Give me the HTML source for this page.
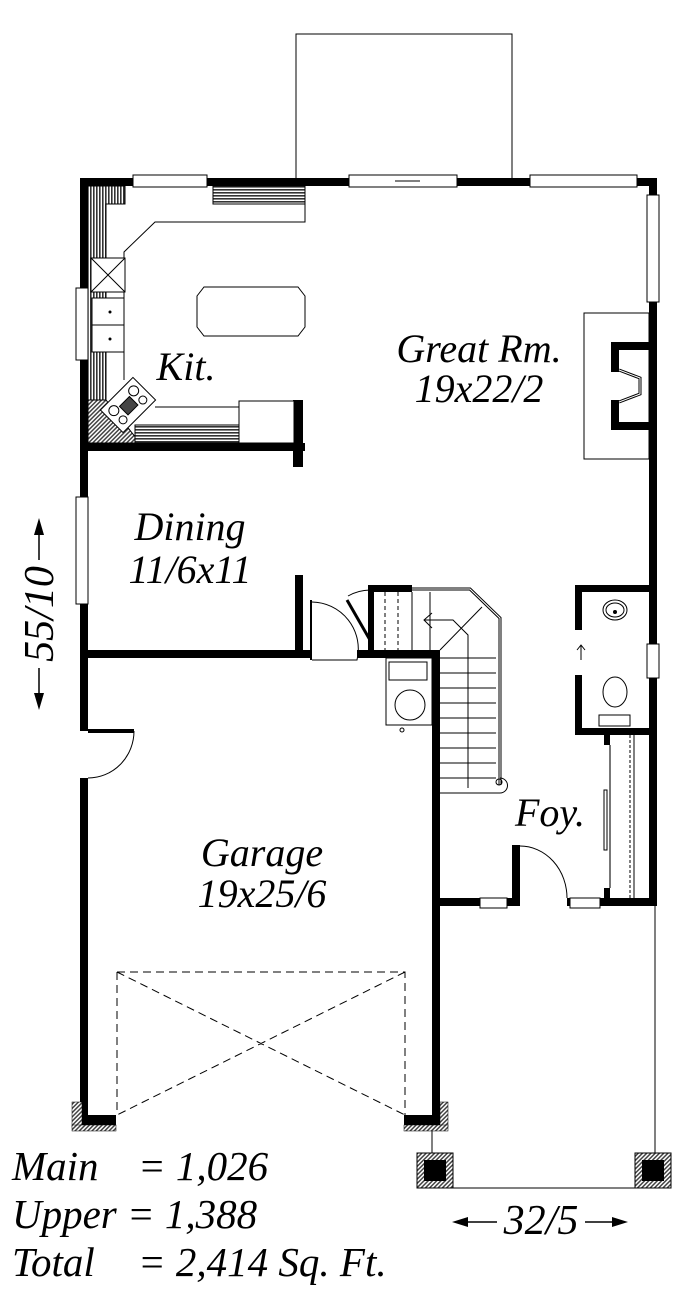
<!DOCTYPE html>
<html><head><meta charset="utf-8"><style>
html,body{margin:0;padding:0;background:#fff}
svg{display:block}
text{font-family:"Liberation Serif",serif;font-style:italic;fill:#000}
</style></head><body>
<svg width="690" height="1306" viewBox="0 0 690 1306" xmlns="http://www.w3.org/2000/svg">
<defs>
<pattern id="hatch" width="3" height="3" patternUnits="userSpaceOnUse"><rect width="3" height="3" fill="#fff"/><rect width="3" height="1.6" fill="#333"/></pattern>
<pattern id="vh" width="3" height="3" patternUnits="userSpaceOnUse"><rect width="3" height="3" fill="#fff"/><rect width="1.6" height="3" fill="#333"/></pattern>
<pattern id="dh" width="3" height="3" patternUnits="userSpaceOnUse" patternTransform="rotate(45)"><rect width="3" height="3" fill="#fff"/><rect width="1.5" height="3" fill="#444"/></pattern>
</defs>
<rect x="296" y="34" width="216" height="145" fill="none" stroke="#000" stroke-width="1"/>
<g fill="#000">
<rect x="80" y="178" width="577" height="8"/>
<rect x="80" y="178" width="8" height="553"/>
<rect x="80" y="778" width="8" height="347"/>
<rect x="649" y="178" width="8" height="728"/>
<rect x="88" y="443" width="217" height="8"/>
<rect x="293" y="400" width="10" height="67"/>
<rect x="88" y="650" width="222" height="8"/>
<rect x="295" y="575" width="8" height="80"/>
<rect x="357" y="650" width="83" height="8"/>
<rect x="432" y="650" width="8" height="475"/>
<rect x="80" y="1115" width="36" height="10"/>
<rect x="404" y="1115" width="36" height="10"/>
<rect x="368" y="585" width="44" height="7"/>
<rect x="368" y="585" width="6" height="70"/>
<rect x="440" y="898" width="77" height="8"/>
<rect x="512" y="845" width="8" height="61"/>
<rect x="567" y="898" width="90" height="8"/>
<rect x="575" y="585" width="82" height="7"/>
<rect x="575" y="585" width="7" height="45"/>
<rect x="575" y="675" width="7" height="60"/>
<rect x="575" y="728" width="82" height="7"/>
<rect x="604" y="735" width="6" height="10"/>
<rect x="604" y="888" width="6" height="12"/>
<rect x="611" y="342" width="38" height="8"/>
<rect x="611" y="422" width="38" height="8"/>
<rect x="611" y="342" width="8" height="30"/>
<rect x="611" y="400" width="8" height="30"/>
</g>
<g fill="#fff" stroke="#000" stroke-width="1">
<rect x="133" y="175" width="74" height="12"/>
<rect x="349" y="175" width="108" height="12"/>
<rect x="530" y="175" width="107" height="12"/>
<rect x="647" y="195" width="12" height="107"/>
<rect x="647" y="644" width="12" height="34"/>
<rect x="76" y="288" width="12" height="72"/>
<rect x="76" y="497" width="12" height="107"/>
<rect x="480" y="898" width="27" height="10"/>
<rect x="570" y="898" width="30" height="10"/>
</g>
<line x1="395" y1="181" x2="420" y2="181" stroke="#000"/>
<g stroke="#000" stroke-width="1">
<path d="M88 186 H125 V204 H106 V400 H88Z" fill="url(#vh)"/>
<rect x="213" y="186" width="92" height="18" fill="url(#hatch)"/>
<path d="M88 400 L106 400 L140 443 L88 443Z" fill="url(#dh)"/>
<rect x="135" y="425" width="105" height="18" fill="url(#hatch)"/>
<path d="M305 204 V222 H155 L124 252 V380" fill="none"/>
<path d="M155 407 H240" fill="none"/>
<rect x="91" y="258" width="34" height="34" fill="#fff"/>
<path d="M91 258 L125 292 M125 258 L91 292" fill="none"/>
<rect x="92" y="298" width="32" height="27" fill="#fff"/>
<rect x="92" y="325" width="32" height="27" fill="#fff"/>
<path d="M197 296 L204 287 H298 L305 296 V327 L298 336 H204 L197 327Z" fill="#fff"/>
<rect x="239" y="401" width="55" height="42" fill="#fff"/>
<g transform="translate(128 405) rotate(-45)"><rect x="-23" y="-16" width="46" height="32" fill="#fff"/>
<circle cx="-14" cy="-6" r="5" fill="#fff"/><circle cx="14" cy="-6" r="5" fill="#fff"/><circle cx="-14" cy="7" r="4" fill="#fff"/><circle cx="14" cy="7" r="4" fill="#fff"/><rect x="-7" y="-5" width="14" height="12" fill="#444"/></g>
</g>
<circle cx="110" cy="312" r="1.5"/><circle cx="110" cy="339" r="1.5"/>
<rect x="584" y="313" width="65" height="146" fill="none" stroke="#000"/>
<path d="M619 370 L640 378 V394 L619 402" fill="none" stroke="#000" stroke-width="3"/>
<path d="M619 370 L640 378 V394 L619 402" fill="none" stroke="#fff" stroke-width="1"/>
<rect x="310" y="600" width="2" height="60" fill="#000"/>
<path d="M312 602 A47 47 0 0 1 357 660 H312" fill="none" stroke="#000"/>
<path d="M347 600 L370 640" stroke="#000" stroke-width="3"/>
<path d="M348 596 A46 46 0 0 1 370 590" fill="none" stroke="#000"/>
<rect x="88" y="729" width="46" height="4" fill="#000"/>
<path d="M134 731 A46 47 0 0 1 88 778" fill="none" stroke="#000"/>
<g stroke="#000" stroke-width="1" fill="none">
<path d="M385 592 V650 M398 592 V650" stroke-dasharray="4 3"/>
<path d="M412 592 V650 M430 592 V650"/>
<path d="M412 589 H470 L500 618 V785" stroke-width="3"/>
<path d="M412 589 H470 L500 618 V785" stroke="#fff" stroke-width="1"/>
<path d="M440 650 L482 607"/>
<path d="M440 658 H496 M440 673 H496 M440 688 H496 M440 703 H496 M440 718 H496 M440 733 H496 M440 748 H496 M440 763 H496 M440 778 H496 M440 793 H500"/>
<path d="M468 788 V635 L453 620 H424 M432 613 L424 620 L432 628"/>
<circle cx="499" cy="782" r="3"/>
<path d="M500 778 A7 7 0 0 1 500 793"/>
<rect x="386" y="658" width="46" height="67"/>
<rect x="389" y="662" width="38" height="18"/>
<circle cx="410" cy="705" r="15"/>
<circle cx="402" cy="730" r="2"/>
<path d="M520 846 A47 52 0 0 1 567 898"/>
<ellipse cx="615" cy="610" rx="12" ry="10"/><ellipse cx="615" cy="610" rx="9" ry="7"/>
<ellipse cx="615" cy="692" rx="12" ry="15"/>
<rect x="599" y="715" width="31" height="11"/>
<path d="M581 660 V645 M577 650 L581 645 L585 650"/>
<path d="M610 745 V888" stroke="#777" stroke-width="2"/>
<path d="M630 735 V898" stroke-dasharray="3 2"/>
<path d="M634 735 V898"/>
<rect x="604" y="790" width="3" height="60"/>
<path d="M117 972 H405 V1115 M117 972 V1115 M117 972 L405 1115 M405 972 L117 1115" stroke-dasharray="8 5"/>
<path d="M432 1125 V1155 M655 906 V1155 M453 1188 H635"/>
</g>
<circle cx="615" cy="612" r="2"/>
<rect x="72" y="1102" width="10" height="25" fill="url(#dh)" stroke="#000" stroke-width=".5"/>
<rect x="72" y="1125" width="44" height="6" fill="url(#dh)" stroke="#000" stroke-width=".5"/>
<rect x="440" y="1102" width="8" height="25" fill="url(#dh)" stroke="#000" stroke-width=".5"/>
<rect x="404" y="1125" width="44" height="6" fill="url(#dh)" stroke="#000" stroke-width=".5"/>
<rect x="417" y="1153" width="36" height="35" fill="url(#dh)" stroke="#000"/>
<rect x="424" y="1160" width="22" height="21" fill="#000"/>
<rect x="635" y="1153" width="36" height="35" fill="url(#dh)" stroke="#000"/>
<rect x="642" y="1160" width="22" height="21" fill="#000"/>
<text x="479" y="362" font-size="40" text-anchor="middle">Great Rm.</text>
<text x="479" y="402" font-size="40" text-anchor="middle">19x22/2</text>
<text x="186" y="380" font-size="40" text-anchor="middle">Kit.</text>
<text x="190" y="540" font-size="40" text-anchor="middle">Dining</text>
<text x="190" y="583" font-size="40" text-anchor="middle">11/6x11</text>
<text x="262" y="866" font-size="40" text-anchor="middle">Garage</text>
<text x="262" y="907" font-size="40" text-anchor="middle">19x25/6</text>
<text x="550" y="826" font-size="40" text-anchor="middle">Foy.</text>
<text transform="translate(53 614) rotate(-90)" font-size="42" text-anchor="middle">55/10</text>
<path d="M39 560 V533 M39 668 V693" stroke="#000" stroke-width="1.5"/>
<path d="M34 535 L39 518 L44 535Z M34 693 L39 710 L44 693Z" fill="#000"/>
<text x="541" y="1234" font-size="42" text-anchor="middle">32/5</text>
<path d="M466 1222 H497 M585 1222 H614" stroke="#000" stroke-width="1.5"/>
<path d="M468 1217 L452 1222 L468 1227Z M612 1217 L628 1222 L612 1227Z" fill="#000"/>
<text x="12" y="1180" font-size="41">Main</text><text x="138" y="1180" font-size="41">= 1,026</text>
<text x="12" y="1228" font-size="41">Upper = 1,388</text>
<text x="12" y="1276" font-size="41">Total</text><text x="138" y="1276" font-size="41">= 2,414 Sq. Ft.</text>
</svg>
</body></html>
